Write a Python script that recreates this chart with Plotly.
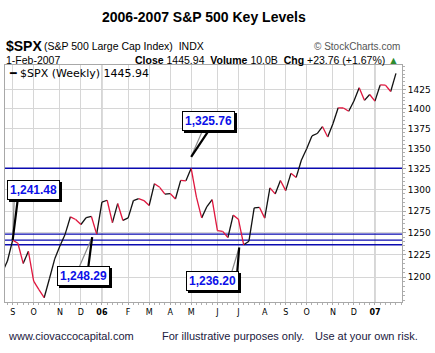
import math
import pandas as pd
import plotly.graph_objects as go

# ---------------- data ----------------
weeks = pd.date_range("2005-08-22", periods=76, freq="W-MON")
closes = [
    1205.10, 1218.02, 1241.48, 1237.91, 1215.29, 1228.81, 1195.90, 1186.57,
    1177.80, 1198.41, 1220.14, 1234.72, 1248.27, 1268.25, 1265.08, 1259.37,
    1267.32, 1268.66, 1248.29, 1285.45, 1287.61, 1261.49, 1283.72, 1264.03,
    1266.99, 1287.24, 1289.43, 1287.23, 1281.42, 1307.25, 1302.95, 1294.83,
    1295.50, 1289.12, 1311.28, 1310.61, 1325.76, 1291.24, 1267.03, 1280.16,
    1288.22, 1252.30, 1251.54, 1244.50, 1270.20, 1265.48, 1236.20, 1240.29,
    1278.55, 1279.36, 1266.74, 1302.30, 1295.09, 1311.01, 1298.92, 1319.66,
    1314.78, 1335.85, 1349.59, 1365.62, 1368.60, 1377.34, 1364.30, 1380.90,
    1401.20, 1400.95, 1396.71, 1409.84, 1427.09, 1410.76, 1418.30, 1409.71,
    1430.73, 1430.50, 1422.18, 1445.94,
]
tick_dates = ["2005-09-05", "2005-10-03", "2005-11-07", "2005-12-05", "2006-01-02",
              "2006-02-06", "2006-03-06", "2006-04-03", "2006-05-01", "2006-06-05",
              "2006-07-03", "2006-08-07", "2006-09-04", "2006-10-02", "2006-11-06",
              "2006-12-04", "2007-01-01"]
tick_text = ["S", "O", "N", "D", "<b>06</b>", "F", "M", "A", "M", "J", "J", "A",
             "S", "O", "N", "D", "<b>07</b>"]
year_lines = ["2006-01-02", "2007-01-01"]
y_ticks = [1200, 1225, 1250, 1275, 1300, 1325, 1350, 1375, 1400, 1425]
y_minor = list(range(1175, 1460, 5))
key_levels = [1325.76, 1248.29, 1241.48, 1236.20]
key_labels = ["1,325.76", "1,248.29", "1,241.48", "1,236.20"]

# ---------------- styling ----------------
RED = "#e0163e"
BLUE_LINE = "#0a0ab0"
GRID = "#d6d6d6"
X_RANGE = ["2005-08-25 19:00", "2007-02-06 02:00"]
Y_RANGE = [math.log10(1173.2), math.log10(1457.1)]

# callout geometry (pixels): box shift, tip shift, pointer bases (gray, black)
callouts = {
    "1,241.48": dict(box=(21, 50), tip=(0, 0), gray=(1.5, -40), black=(5, -40)),
    "1,248.29": dict(box=(-13, -42), tip=(-4.5, -3), gray=(-13.5, 31), black=(-4, 31)),
    "1,325.76": dict(box=(17, 47), tip=(0, 11.5), gray=(13, -30), black=(20, -30)),
    "1,236.20": dict(box=(-31, -36), tip=(-4.5, -2.7), gray=(-8.5, 28), black=(-3, 38)),
}

fig = go.Figure()

# up / down segments
up_x, up_y, dn_x, dn_y = [], [], [], []
for i in range(1, len(closes)):
    seg_x = [weeks[i - 1], weeks[i], None]
    seg_y = [closes[i - 1], closes[i], None]
    if closes[i] >= closes[i - 1]:
        up_x += seg_x
        up_y += seg_y
    else:
        dn_x += seg_x
        dn_y += seg_y

# key level lines
for lvl in key_levels:
    fig.add_trace(go.Scatter(x=X_RANGE, y=[lvl, lvl], mode="lines",
                             line=dict(color=BLUE_LINE, width=1.4),
                             hoverinfo="skip", showlegend=False))

fig.add_trace(go.Scatter(x=up_x, y=up_y, mode="lines", line=dict(color="#111111", width=1.3),
                         showlegend=False, connectgaps=False))
fig.add_trace(go.Scatter(x=dn_x, y=dn_y, mode="lines", line=dict(color=RED, width=1.3),
                         showlegend=False, connectgaps=False))

# year gridlines (darker)
for d in year_lines:
    fig.add_shape(type="line", xref="x", yref="paper", x0=d, x1=d, y0=0, y1=1,
                  line=dict(color="#a8a8a8", width=1), layer="below")

annotations = []

# callouts
for lvl, lab in zip(key_levels, key_labels):
    i = closes.index(lvl)
    xd = weeks[i]
    yl = math.log10(lvl)
    c = callouts[lab]
    # pointers
    for key, col, w in (("gray", "#8a8a8a", 1.2), ("black", "#000000", 2.2)):
        annotations.append(dict(x=xd, y=yl, xref="x", yref="y", text="",
                                showarrow=True, arrowhead=0, arrowwidth=w, arrowcolor=col,
                                ax=c[key][0], ay=c[key][1], xshift=c["tip"][0],
                                yshift=c["tip"][1]))
    # shadow (blank box of the same size)
    annotations.append(dict(x=xd, y=yl, xref="x", yref="y", text="<b>" + "&nbsp;" * 14 + "</b>",
                            showarrow=False, xshift=c["box"][0] + 2, yshift=c["box"][1] - 2,
                            font=dict(family="Liberation Sans, Arial", size=12, color="#000"),
                            bgcolor="#000", bordercolor="#000", borderwidth=1, borderpad=2))
    # box
    annotations.append(dict(x=xd, y=yl, xref="x", yref="y", text="<b>%s</b>" % lab,
                            showarrow=False, xshift=c["box"][0], yshift=c["box"][1],
                            font=dict(family="Liberation Sans, Arial", size=12, color="#0c10e8"),
                            bgcolor="#ffffff", bordercolor="#000", borderwidth=1, borderpad=2))


def px(xp):
    return (xp - 4) / 400.0


def py(yp):
    return (302 - yp) / 237.0


def txt(x, y, t, size, anchor="left", color="#000", family="Liberation Sans, Arial"):
    annotations.append(dict(x=px(x), y=py(y), xref="paper", yref="paper", text=t,
                            showarrow=False, xanchor=anchor, yanchor="middle",
                            font=dict(family=family, size=size, color=color)))


txt(204, 17, "<b>2006-2007 S&P 500 Key Levels</b>", 14, anchor="center")
txt(3, 46, "<b>$SPX</b>", 14)
txt(41.5, 46.5, "(S&P 500 Large Cap Index)  INDX", 10.5)
txt(404, 46.5, "© StockCharts.com", 10, anchor="right", color="#555555")
txt(3, 60, "1-Feb-2007", 10.5)
txt(403, 60, "<b>Close</b> 1445.94  <b>Volume</b> 10.0B  <b>Chg</b> +23.76 (+1.67%) "
             "<span style='color:#2e8b2e'>▲</span>", 10.5, anchor="right")
txt(6, 73, "━ $SPX (Weekly) 1445.94", 11, family="DejaVu Sans")
txt(5, 336, "www.ciovaccocapital.com", 11, color="#202040")
txt(160, 336, "For illustrative purposes only.", 11, color="#202040")
txt(314, 336, "Use at your own risk.", 11, color="#202040")

fig.update_layout(
    width=435, height=353,
    margin=dict(l=4, r=31, t=65, b=51),
    paper_bgcolor="white", plot_bgcolor="white",
    showlegend=False,
    annotations=annotations,
    xaxis=dict(type="date", range=X_RANGE, tickmode="array", tickvals=tick_dates,
               ticktext=tick_text, showgrid=True, gridcolor=GRID, gridwidth=1,
               showline=True, linecolor="#a8a8a8", mirror=True, zeroline=False,
               ticks="outside", ticklen=2, tickcolor="#a8a8a8",
               tickfont=dict(family="DejaVu Sans", size=8, color="#000"),
               minor=dict(ticks="outside", ticklen=2, tickcolor="#b0b0b0",
                          dtick=7 * 86400000, tick0="2005-08-22", showgrid=False)),
    yaxis=dict(type="log", range=Y_RANGE, side="right", tickmode="array",
               tickvals=y_ticks, ticktext=[str(v) for v in y_ticks],
               showgrid=True, gridcolor=GRID, gridwidth=1,
               showline=True, linecolor="#a8a8a8", mirror=True, zeroline=False,
               ticks="outside", ticklen=3, tickcolor="#a8a8a8",
               tickfont=dict(family="DejaVu Sans", size=9, color="#000"),
               minor=dict(ticks="outside", ticklen=2, tickcolor="#b0b0b0",
                          tickvals=y_minor, showgrid=False)),
)

fig.write_html("out.html")
